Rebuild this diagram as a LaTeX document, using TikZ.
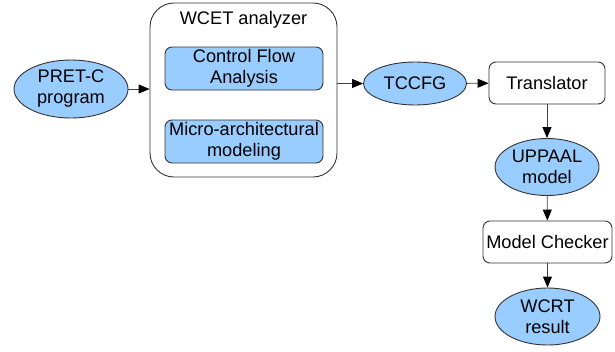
\documentclass[tikz,border=0pt]{standalone}
\usepackage{fontspec}
\setmainfont{Liberation Sans}
\usetikzlibrary{arrows.meta,shapes.geometric}
\definecolor{fillblue}{HTML}{99CCFF}
\begin{document}
\begin{tikzpicture}[x=1pt,y=-1pt,
  every node/.style={font=\fontsize{18.2}{21}\selectfont, inner sep=0pt, align=center},
  ell/.style={ellipse, draw=black!80, line width=0.9pt, fill=fillblue},
  inbox/.style={rectangle, rounded corners=7pt, draw=black!80, line width=0.9pt, fill=fillblue, minimum width=158pt, minimum height=43pt},
  wbox/.style={rectangle, rounded corners=7pt, draw=black!80, line width=0.9pt, fill=white},
  conn/.style={draw=black!75, line width=0.9pt, -{Triangle[length=11pt,width=9pt,color=black]}}
]
\useasboundingbox (0,0) rectangle (615,351);
\node[ell, minimum width=114pt, minimum height=58pt] (pret) at (71,89) {PRET-C\\program};
\node[rectangle, rounded corners=24pt, draw=black!80, line width=0.9pt, minimum width=187pt, minimum height=174pt] (wcet) at (243.5,90) {};
\node (title) at (243.5,20) {WCET analyzer};
\node[inbox] (cfa) at (244,68.5) {Control Flow\\Analysis};
\node[inbox] (micro) at (244,141.5) {Micro-architectural\\modeling};
\node[ell, minimum width=103pt, minimum height=43pt] (tccfg) at (415,83.5) {TCCFG};
\node[wbox, minimum width=116pt, minimum height=42pt] (trans) at (547,83) {Translator};
\node[ell, minimum width=104pt, minimum height=57pt] (uppaal) at (547,167) {UPPAAL\\model};
\node[wbox, minimum width=129pt, minimum height=42pt] (mc) at (547.5,242) {Model Checker};
\node[ell, minimum width=105pt, minimum height=57pt] (wcrt) at (547.5,316.5) {WCRT\\result};
\draw[conn] (pret) -- (pret -| wcet.west);
\draw[conn] (wcet.east |- tccfg) -- (tccfg);
\draw[conn] (tccfg) -- (trans);
\draw[conn] (trans) -- (uppaal);
\draw[conn] (uppaal) -- (mc);
\draw[conn] (mc) -- (wcrt);
\end{tikzpicture}
\end{document}
